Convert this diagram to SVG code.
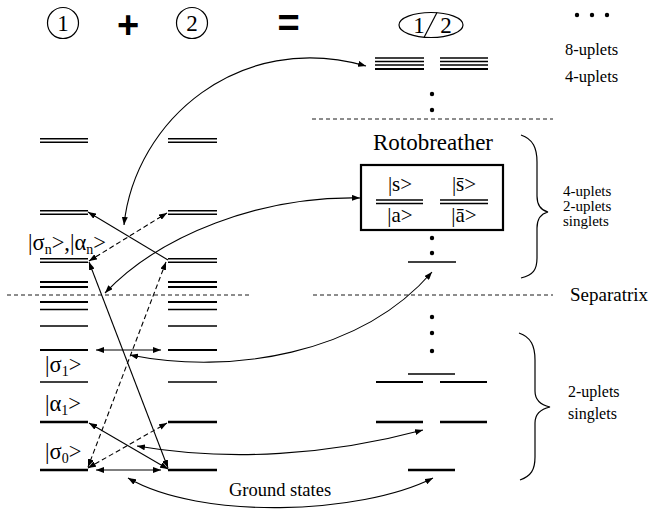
<svg xmlns="http://www.w3.org/2000/svg" width="649" height="520" viewBox="0 0 649 520">
<defs>
<marker id="ah" markerUnits="userSpaceOnUse" markerWidth="9" markerHeight="6" refX="8" refY="3" orient="auto-start-reverse">
<path d="M0,0 L8,3 L0,6 z" fill="#000"/>
</marker>
<style>
text{font-family:"Liberation Serif","Times New Roman",serif;fill:#000}
.lv{stroke:#000;fill:none}
.cn{stroke:#000;stroke-width:1.1;fill:none}
.dsh{stroke-dasharray:5 3}
.sep{stroke:#000;stroke-width:0.9;stroke-dasharray:4 3;fill:none}
.br{stroke:#000;stroke-width:1.2;fill:none}
.dot{fill:#000}
.op{font-family:"Liberation Sans",Arial,sans-serif;font-weight:bold}
</style>
</defs>
<rect width="649" height="520" fill="#fff"/>

<g id="header">
<circle cx="63" cy="23" r="15.5" fill="none" stroke="#000" stroke-width="1.2"/>
<text x="63" y="31" font-size="23" text-anchor="middle">1</text>
<text class="op" x="128" y="37.5" font-size="38" text-anchor="middle">+</text>
<circle cx="192" cy="23" r="15.5" fill="none" stroke="#000" stroke-width="1.2"/>
<text x="192" y="31" font-size="23" text-anchor="middle">2</text>
<text class="op" x="288.5" y="36" font-size="38" text-anchor="middle">=</text>
<ellipse cx="431" cy="25" rx="32" ry="12.5" fill="none" stroke="#000" stroke-width="1.2"/>
<line x1="437" y1="12.5" x2="424" y2="37.5" stroke="#000" stroke-width="1.2"/>
<text x="419" y="33" font-size="23" text-anchor="middle">1</text>
<text x="446" y="33" font-size="23" text-anchor="middle">2</text>
<circle class="dot" cx="577" cy="15" r="2.2"/>
<circle class="dot" cx="592" cy="15" r="2.2"/>
<circle class="dot" cx="607" cy="15" r="2.2"/>
</g>

<g id="labels-right">
<text x="565" y="55" font-size="16.5">8-uplets</text>
<text x="565" y="82" font-size="16.5">4-uplets</text>
<text x="563" y="196" font-size="15">4-uplets</text>
<text x="563" y="211" font-size="15">2-uplets</text>
<text x="563" y="226" font-size="15">singlets</text>
<text x="570" y="301" font-size="19">Separatrix</text>
<text x="568" y="397" font-size="16">2-uplets</text>
<text x="568" y="419" font-size="16">singlets</text>
<path class="br" d="M521,135 C533,139 537,148 537,162 L537,196 C537,205 540,210 548,212 C540,214 537,219 537,228 L537,258 C537,270 533,275 521,278"/>
<path class="br" d="M519,333 C531,337 535,346 535,360 L535,391 C535,400 541,405 550,407 C541,409 535,414 535,423 L535,457 C535,470 531,476 520,480"/>
</g>

<g id="separatrix">
<line class="sep" x1="312" y1="119" x2="553" y2="119"/>
<line class="sep" x1="313" y1="295" x2="553" y2="295"/>
<line class="sep" x1="7" y1="295" x2="249" y2="295"/>
</g>

<g id="pair-levels">
<g class="lv" stroke-width="1.5">
<line x1="375" y1="58" x2="424" y2="58"/><line x1="440" y1="58" x2="488" y2="58"/>
<line x1="375" y1="61.5" x2="424" y2="61.5"/><line x1="440" y1="61.5" x2="488" y2="61.5"/>
<line x1="375" y1="65" x2="424" y2="65"/><line x1="440" y1="65" x2="488" y2="65"/>
<line x1="375" y1="69" x2="424" y2="69" stroke-width="2"/><line x1="440" y1="69" x2="488" y2="69" stroke-width="2"/>
</g>
<circle class="dot" cx="432" cy="94" r="2.2"/>
<circle class="dot" cx="432" cy="110" r="2.2"/>
<text x="433" y="150" font-size="23" text-anchor="middle">Rotobreather</text>
<circle class="dot" cx="432" cy="238" r="2.2"/>
<circle class="dot" cx="432" cy="253" r="2.2"/>
<line class="lv" stroke-width="1.5" x1="408" y1="262" x2="456" y2="262"/>
<circle class="dot" cx="432" cy="317" r="2.2"/>
<circle class="dot" cx="432" cy="333" r="2.2"/>
<circle class="dot" cx="432" cy="351" r="2.2"/>
<line class="lv" stroke-width="1.5" x1="408" y1="374" x2="455" y2="374"/>
<line class="lv" stroke-width="1.8" x1="376" y1="382" x2="423" y2="382"/>
<line class="lv" stroke-width="1.8" x1="440" y1="382" x2="487" y2="382"/>
<line class="lv" stroke-width="2.5" x1="376" y1="422" x2="423" y2="422"/>
<line class="lv" stroke-width="2.5" x1="440" y1="422" x2="487" y2="422"/>
<line class="lv" stroke-width="2.5" x1="408" y1="470" x2="455" y2="470"/>
</g>

<g id="rotobreather-box">
<rect x="361" y="165" width="142" height="65" fill="none" stroke="#000" stroke-width="2.2"/>
<text x="400" y="191" font-size="21" text-anchor="middle">|s&gt;</text>
<text x="464" y="191" font-size="21" text-anchor="middle">|s&#x304;&gt;</text>
<line class="lv" stroke-width="1.5" x1="376" y1="200" x2="423" y2="200"/>
<line class="lv" stroke-width="1.5" x1="376" y1="203.5" x2="423" y2="203.5"/>
<line class="lv" stroke-width="1.5" x1="440" y1="200" x2="488" y2="200"/>
<line class="lv" stroke-width="1.5" x1="440" y1="203.5" x2="488" y2="203.5"/>
<text x="400" y="222" font-size="21" text-anchor="middle">|a&gt;</text>
<text x="464" y="222" font-size="21" text-anchor="middle">|&#x101;&gt;</text>
</g>

<g id="ladder-1">
<g class="lv" stroke-width="1.4">
<line x1="40" y1="138.8" x2="88" y2="138.8"/><line x1="40" y1="142.2" x2="88" y2="142.2"/>
<line x1="40" y1="210.8" x2="88" y2="210.8"/><line x1="40" y1="214.2" x2="88" y2="214.2"/>
<line x1="40" y1="258.8" x2="88" y2="258.8"/><line x1="40" y1="262.2" x2="88" y2="262.2"/>
</g>
<line class="lv" stroke-width="2" x1="40" y1="282" x2="88" y2="282"/>
<line class="lv" stroke-width="2" x1="40" y1="287" x2="88" y2="287"/>
<line class="lv" stroke-width="2.2" x1="40" y1="302" x2="88" y2="302"/>
<line class="lv" stroke-width="1.5" x1="40" y1="309.5" x2="88" y2="309.5"/>
<line class="lv" stroke-width="1.3" x1="40" y1="326" x2="88" y2="326"/>
<line class="lv" stroke-width="2" x1="40" y1="350" x2="88" y2="350"/>
<line class="lv" stroke-width="1.5" x1="40" y1="382" x2="88" y2="382"/>
<line class="lv" stroke-width="2.5" x1="40" y1="422" x2="88" y2="422"/>
<line class="lv" stroke-width="2.5" x1="40" y1="470" x2="88" y2="470"/>
<text x="28" y="250" font-size="22.5">|σ<tspan font-size="14" dy="4">n</tspan><tspan dy="-4">&gt;,|α</tspan><tspan font-size="14" dy="4">n</tspan><tspan dy="-4">&gt;</tspan></text>
<text x="45" y="372" font-size="22.5">|σ<tspan font-size="14" dy="4">1</tspan><tspan dy="-4">&gt;</tspan></text>
<text x="45" y="411" font-size="22.5">|α<tspan font-size="14" dy="4">1</tspan><tspan dy="-4">&gt;</tspan></text>
<text x="45" y="459" font-size="22.5">|σ<tspan font-size="14" dy="4">0</tspan><tspan dy="-4">&gt;</tspan></text>
</g>

<g id="ladder-2">
<g class="lv" stroke-width="1.4">
<line x1="168" y1="138.8" x2="217" y2="138.8"/><line x1="168" y1="142.2" x2="217" y2="142.2"/>
<line x1="168" y1="210.8" x2="217" y2="210.8"/><line x1="168" y1="214.2" x2="217" y2="214.2"/>
<line x1="168" y1="258.8" x2="217" y2="258.8"/><line x1="168" y1="262.2" x2="217" y2="262.2"/>
</g>
<line class="lv" stroke-width="2" x1="168" y1="282" x2="217" y2="282"/>
<line class="lv" stroke-width="2" x1="168" y1="287" x2="217" y2="287"/>
<line class="lv" stroke-width="2.2" x1="168" y1="302" x2="217" y2="302"/>
<line class="lv" stroke-width="1.5" x1="168" y1="309.5" x2="217" y2="309.5"/>
<line class="lv" stroke-width="1.3" x1="168" y1="326" x2="217" y2="326"/>
<line class="lv" stroke-width="2" x1="168" y1="350" x2="217" y2="350"/>
<line class="lv" stroke-width="1.5" x1="168" y1="382" x2="217" y2="382"/>
<line class="lv" stroke-width="2.5" x1="168" y1="422" x2="217" y2="422"/>
<line class="lv" stroke-width="2.5" x1="168" y1="470" x2="217" y2="470"/>
</g>

<g id="ground-label">
<text x="280" y="496" font-size="18.5" text-anchor="middle">Ground states</text>
</g>

<g id="connectors">
<path class="cn" d="M124,225 C135,120 240,30 366,66" marker-start="url(#ah)" marker-end="url(#ah)"/>
<path class="cn" d="M105,293 C160,235 260,196 360,198" marker-start="url(#ah)" marker-end="url(#ah)"/>
<path class="cn" d="M130,355 C230,375 360,355 432,272" marker-start="url(#ah)" marker-end="url(#ah)"/>
<path class="cn" d="M137,446 C230,462 330,455 423,430" marker-start="url(#ah)" marker-end="url(#ah)"/>
<path class="cn" d="M128,478 C200,520 360,515 433,478" marker-start="url(#ah)" marker-end="url(#ah)"/>
<path class="cn" d="M88,212 L168,260" marker-start="url(#ah)"/>
<path class="cn dsh" d="M89,261 L167,213" marker-start="url(#ah)" marker-end="url(#ah)"/>
<path class="cn" d="M89,262 L168,468" marker-start="url(#ah)" marker-end="url(#ah)"/>
<path class="cn dsh" d="M166,262 L88,467" marker-start="url(#ah)" marker-end="url(#ah)"/>
<path class="cn dsh" d="M88,468 L167,423" marker-start="url(#ah)" marker-end="url(#ah)"/>
<path class="cn" d="M89,423 L168,469" marker-start="url(#ah)" marker-end="url(#ah)"/>
<path class="cn" d="M96,350 L161,350" stroke-width="0.9" marker-start="url(#ah)" marker-end="url(#ah)"/>
<path class="cn" d="M96,470 L161,470" stroke-width="0.9" marker-start="url(#ah)" marker-end="url(#ah)"/>
</g>
</svg>
